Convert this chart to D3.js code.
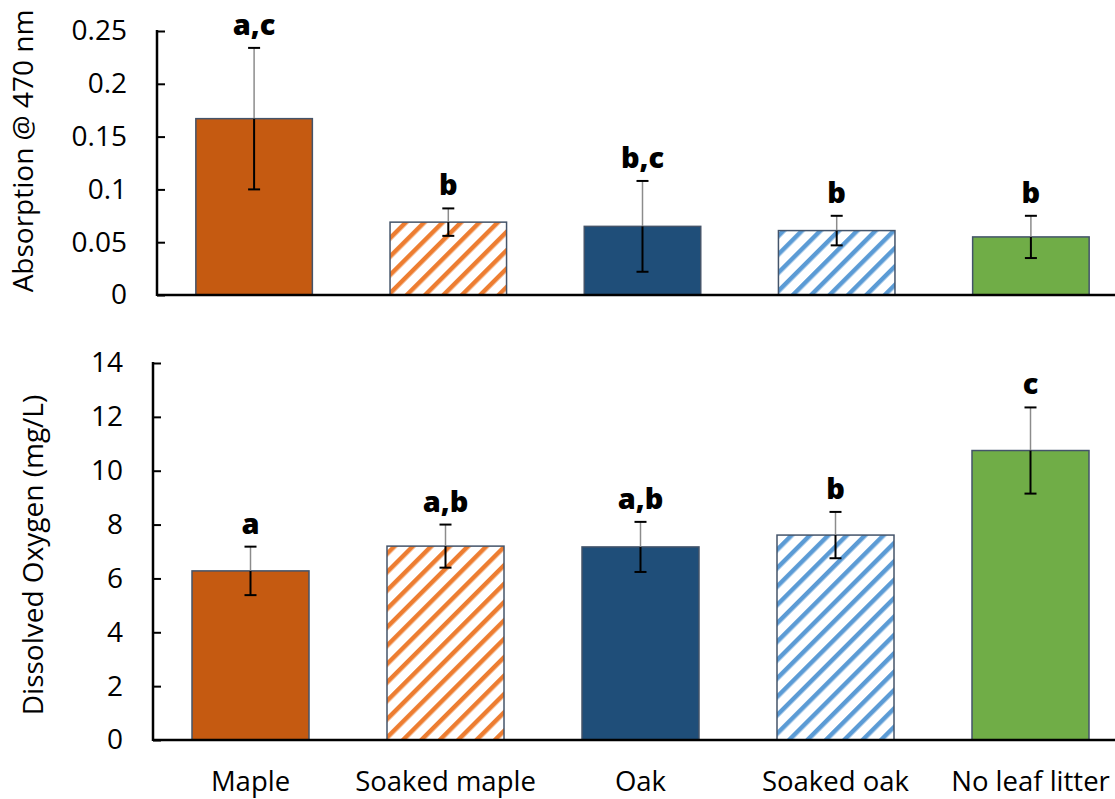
<!DOCTYPE html>
<html>
<head>
<meta charset="utf-8">
<script src="https://d3js.org/d3.v7.min.js"></script>
<style>
  body { margin: 0; background: #fff; }
  svg text { font-family: "Open Sans", sans-serif; fill: #000; }
</style>
</head>
<body>
<svg id="chart" width="1115" height="799"></svg>
<script>
// data
var categories = ["Maple", "Soaked maple", "Oak", "Soaked oak", "No leaf litter"];
var fills = ["#C55A11", "url(#hatchOrange)", "#1F4E79", "url(#hatchBlue)", "#70AD47"];

var absValues = [0.167, 0.069, 0.065, 0.061, 0.055];
var absErrors = [0.067, 0.013, 0.043, 0.014, 0.020];
var absLetters = ["a,c", "b", "b,c", "b", "b"];
var absTicks = [0, 0.05, 0.1, 0.15, 0.2, 0.25];

var doValues = [6.28, 7.2, 7.17, 7.61, 10.75];
var doErrors = [0.9, 0.8, 0.93, 0.86, 1.6];
var doLetters = ["a", "a,b", "a,b", "b", "c"];
var doTicks = [0, 2, 4, 6, 8, 10, 12, 14];

var svg = d3.select("#chart");

// hatch patterns
var defs = svg.append("defs");
function hatch(id, color) {
  var p = defs.append("pattern")
    .attr("id", id)
    .attr("patternUnits", "userSpaceOnUse")
    .attr("width", 13)
    .attr("height", 13)
    .attr("patternTransform", "rotate(45)");
  p.append("rect").attr("width", 13).attr("height", 13).attr("fill", "#fff");
  p.append("rect").attr("width", 4.5).attr("height", 13).attr("fill", color);
}
hatch("hatchOrange", "#ED7D31");
hatch("hatchBlue", "#5B9BD5");

function panel(opts) {
  // the plot area runs a little past the right edge of the picture
  var x = d3.scaleBand().domain(categories)
    .range([opts.left, 1128])
    .paddingInner(0.4).paddingOuter(0.2);
  var y = d3.scaleLinear().domain([0, opts.max]).range([opts.bottom, opts.top]);

  var g = svg.append("g");

  // bars
  g.selectAll(".bar").data(opts.values).enter().append("rect")
    .attr("x", function(d, i) { return x(categories[i]); })
    .attr("y", function(d) { return y(d); })
    .attr("width", x.bandwidth())
    .attr("height", function(d) { return y(0) - y(d); })
    .attr("fill", function(d, i) { return fills[i]; })
    .attr("stroke", "#44546A")
    .attr("stroke-width", 1.5);

  // error bars
  opts.values.forEach(function(v, i) {
    var cx = x(categories[i]) + x.bandwidth() / 2;
    var e = opts.errors[i];
    g.append("line").attr("x1", cx).attr("x2", cx)
      .attr("y1", y(v)).attr("y2", y(v + e))
      .attr("stroke", "#8c8c8c").attr("stroke-width", 1.5);
    g.append("line").attr("x1", cx).attr("x2", cx)
      .attr("y1", y(v)).attr("y2", y(v - e))
      .attr("stroke", "#000").attr("stroke-width", 2);
    [v + e, v - e].forEach(function(t) {
      g.append("line").attr("x1", cx - 6).attr("x2", cx + 6)
        .attr("y1", y(t)).attr("y2", y(t))
        .attr("stroke", "#000").attr("stroke-width", 2);
    });
    g.append("text")
      .attr("x", cx).attr("y", y(v + e) - 13)
      .attr("text-anchor", "middle")
      .style("font-size", "29px").style("font-weight", "800")
      .text(opts.letters[i]);
  });

  // y axis
  var ya = g.append("g")
    .attr("transform", "translate(" + opts.left + ",0)")
    .call(d3.axisRight(y).tickValues(opts.ticks).tickSize(8).tickFormat(function(d) { return String(d); }));
  ya.select(".domain").remove();
  ya.selectAll("line").attr("stroke", "#000").attr("stroke-width", 2);
  ya.selectAll("text")
    .attr("x", -30).attr("text-anchor", "end")
    .style("font-size", "28px").attr("font-family", null);
  g.append("line")
    .attr("x1", opts.left).attr("x2", opts.left)
    .attr("y1", y(0) + 1).attr("y2", y(opts.max) - 1)
    .attr("stroke", "#000").attr("stroke-width", 2.5);
  // x baseline
  g.append("line")
    .attr("x1", opts.left).attr("x2", 1115)
    .attr("y1", y(0)).attr("y2", y(0))
    .attr("stroke", "#000").attr("stroke-width", 2.5);

  // title
  g.append("text")
    .attr("transform", "translate(" + opts.titleX + "," + opts.titleY + ") rotate(-90)")
    .attr("text-anchor", "middle")
    .style("font-size", "28px")
    .text(opts.title);

  return x;
}

panel({ left: 157, top: 31, bottom: 295, max: 0.25, ticks: absTicks,
        values: absValues, errors: absErrors, letters: absLetters,
        title: "Absorption @ 470 nm", titleX: 33, titleY: 151 });

var xb = panel({ left: 153, top: 363, bottom: 740, max: 14, ticks: doTicks,
        values: doValues, errors: doErrors, letters: doLetters,
        title: "Dissolved Oxygen (mg/L)", titleX: 43, titleY: 555 });

// category labels
svg.append("g").selectAll("text").data(categories).enter().append("text")
  .attr("x", function(d) { return xb(d) + xb.bandwidth() / 2; })
  .attr("y", 791)
  .attr("text-anchor", "middle")
  .style("font-size", "27.5px")
  .text(function(d) { return d; });
</script>
</body>
</html>
